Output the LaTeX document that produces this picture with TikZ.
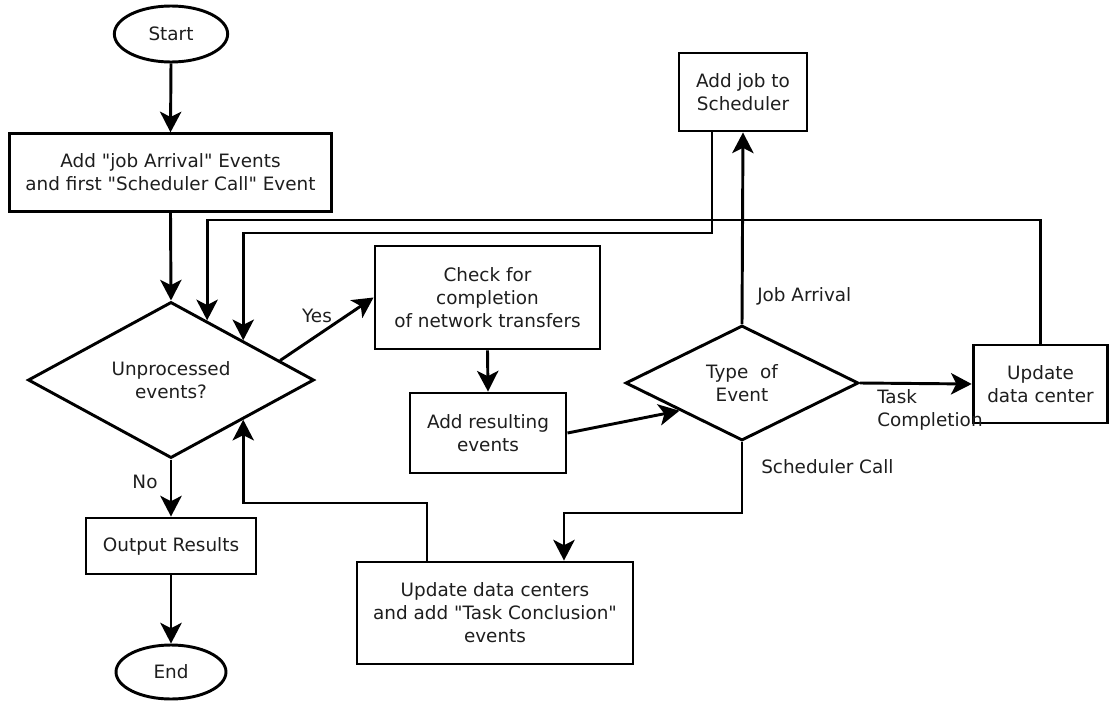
\documentclass[tikz,border=0pt]{standalone}
\usepackage{fontspec}
\setmainfont{DejaVu Sans}[Ligatures=TeXOff]
\usetikzlibrary{shapes.geometric,arrows.meta,calc}
\definecolor{txt}{RGB}{30,30,30}
\tikzset{
  base/.style={draw=black,line width=2.2pt,fill=white,inner sep=0pt,align=center,text=txt,
    font=\fontsize{13.8pt}{17.3pt}\selectfont},
  term/.style={base,ellipse},
  proc/.style={base,rectangle},
  deci/.style={base,diamond},
  arr/.style={line width=2.2pt,-{Stealth[length=15.5pt,width=16pt,inset=4pt]}},
  lbl/.style={text=txt,inner sep=0pt,font=\fontsize{13.8pt}{17.3pt}\selectfont},
}
\begin{document}
\begin{tikzpicture}[x=0.75pt,y=-0.75pt]
\useasboundingbox (0,0) rectangle (1110,700);
% nodes
\node[term,minimum width=85pt,minimum height=42pt] (start) at (171,34) {Start};
\node[proc,minimum width=242pt,minimum height=58pt] (init) at (170.5,172.5) {Add "job Arrival" Events\\and first "Scheduler Call" Event};
\node[deci,minimum width=214.5pt,minimum height=103.5pt] (unp) at (171,380) {Unprocessed\\events?};
\node[proc,minimum width=127.5pt,minimum height=42pt] (out) at (171,546) {Output Results};
\node[term,minimum width=82.5pt,minimum height=40.5pt] (end) at (171,672) {End};
\node[proc,minimum width=168.75pt,minimum height=77.25pt] (check) at (487.5,297.5) {Check for\\completion\\of network transfers};
\node[proc,minimum width=117pt,minimum height=60pt] (res) at (488,433) {Add resulting\\events};
\node[deci,minimum width=174.75pt,minimum height=86.25pt] (type) at (742,383) {Type\ \ of\\Event};
\node[proc,minimum width=96pt,minimum height=58.5pt] (job) at (743,92) {Add job to\\Scheduler};
\node[proc,minimum width=101pt,minimum height=58.5pt] (upd) at (1040.5,384) {Update\\data center};
\node[proc,minimum width=207pt,minimum height=76.5pt] (upc) at (495,613) {Update data centers\\and add "Task Conclusion"\\events};
% helper points
\coordinate (pyes) at ($(unp.north)!0.755!(unp.east)$);
\coordinate (pout) at ($(unp.north)!0.25!(unp.east)$);
\coordinate (pres) at ($(type.west)!0.47!(type.south)$);
% connectors
\draw[arr] (start.south) -- (init.north);
\draw[arr] (init.south) -- (unp.north);
\draw[arr] (pyes) -- (check.west);
\draw[arr] (unp.south) -- (out.north);
\draw[arr] (out.south) -- (end.north);
\draw[arr] (check.south) -- (res.north);
\draw[arr] (res.east) -- (pres);
\draw[arr] (type.north) -- (job.south);
\draw[arr] (type.east) -- (upd.west);
\draw[arr] (type.south) -- (type.south |- 0,513) -| (upc.north -| 564,0);
\draw[arr] (upc.north -| 427,0) -- (427,503) -| (unp.south east);
\draw[arr] (job.south -| 712,0) -- (712,233) -| (unp.north east);
\draw[arr] (upd.north) -- (upd.north |- 0,220) -| (pout);
% labels
\node[lbl] (lyes) at (317,316) {Yes};
\node[lbl] (lno) at (145,482) {No};
\node[lbl,anchor=west] (ljob) at (757,296) {Job Arrival};
\node[lbl,anchor=west,align=left] (ltask) at (877,409.5) {Task\\Completion};
\node[lbl,anchor=west] (lsched) at (761,467) {Scheduler Call};
\end{tikzpicture}
\end{document}
